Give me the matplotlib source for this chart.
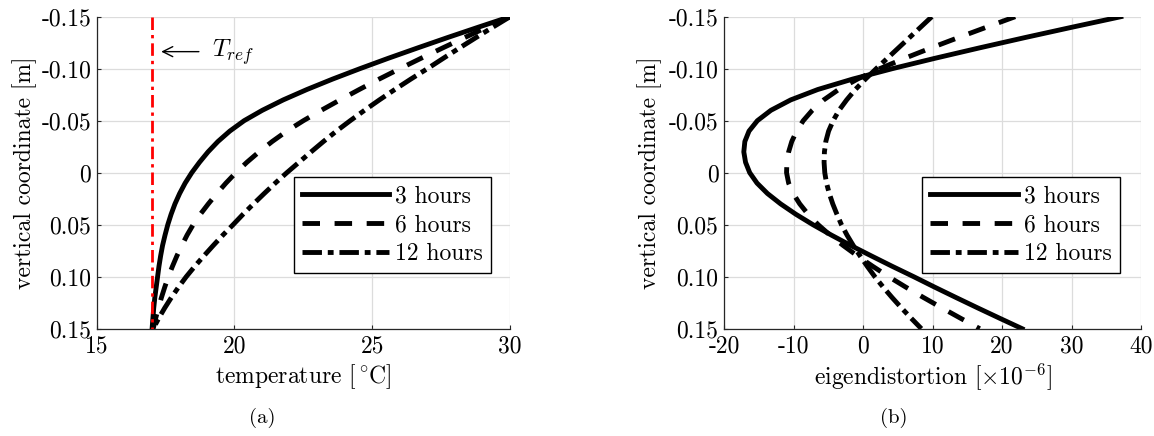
import numpy as np
import matplotlib
matplotlib.use('Agg')
import matplotlib.pyplot as plt

plt.rcParams['font.family'] = 'serif'
plt.rcParams['font.serif'] = ['cmr10']
plt.rcParams['mathtext.fontset'] = 'cm'
plt.rcParams['axes.formatter.use_mathtext'] = True
plt.rcParams['axes.unicode_minus'] = False

# vertical coordinate [m]
z = [-0.15, -0.14, -0.13, -0.12, -0.11, -0.10, -0.09, -0.08, -0.07, -0.06,
     -0.05, -0.04, -0.03, -0.02, -0.01, 0.00, 0.01, 0.02, 0.03, 0.04,
     0.05, 0.06, 0.07, 0.08, 0.09, 0.10, 0.11, 0.12, 0.13, 0.14, 0.15]

# temperature [C]
temp_3h = [30.0, 28.86, 27.74, 26.65, 25.58, 24.55, 23.56, 22.63, 21.77, 21.01,
           20.35, 19.83, 19.40, 19.04, 18.73, 18.45, 18.21, 18.01, 17.84, 17.70,
           17.58, 17.48, 17.39, 17.32, 17.26, 17.21, 17.16, 17.11, 17.07, 17.04, 17.01]
temp_6h = [30.0, 29.17, 28.36, 27.56, 26.77, 26.0, 25.25, 24.53, 23.83, 23.15,
           22.5, 21.9, 21.37, 20.89, 20.45, 20.05, 19.69, 19.36, 19.05, 18.76,
           18.5, 18.28, 18.09, 17.91, 17.75, 17.6, 17.47, 17.35, 17.24, 17.14, 17.05]
temp_12h = [30.0, 29.38, 28.77, 28.17, 27.58, 27.0, 26.4, 25.82, 25.26, 24.72,
            24.2, 23.7, 23.23, 22.78, 22.34, 21.9, 21.48, 21.08, 20.69, 20.31,
            19.95, 19.58, 19.23, 18.89, 18.56, 18.25, 17.97, 17.71, 17.47, 17.25, 17.05]
T_ref = 17.0

# eigendistortion [x1e-6]
eig_3h = [37.1, 30.15, 23.35, 16.75, 10.35, 4.2, -1.5, -6.5, -10.4, -13.25,
          -15.2, -16.4, -17.0, -17.15, -16.9, -16.3, -15.25, -13.75, -11.85, -9.65,
          -7.2, -4.55, -1.75, 1.2, 4.2, 7.3, 10.3, 13.38, 16.5, 19.68, 22.9]
eig_6h = [21.9, 17.8, 13.75, 9.8, 6.0, 2.4, -0.8, -3.5, -5.65, -7.3,
          -8.6, -9.55, -10.25, -10.7, -10.95, -11.0, -10.7, -10.05, -9.1, -7.9,
          -6.45, -4.75, -2.85, -0.8, 1.4, 3.7, 6.15, 8.7, 11.35, 14.05, 16.8]
eig_12h = [9.9, 8.3, 6.7, 5.1, 3.5, 1.9, 0.35, -1.1, -2.35, -3.45,
           -4.3, -4.95, -5.35, -5.55, -5.6, -5.5, -5.25, -4.85, -4.35, -3.75,
           -3.1, -2.3, -1.4, -0.42, 0.61, 1.7, 2.9, 4.18, 5.53, 6.94, 8.4]

labels = ['3 hours', '6 hours', '12 hours']
y_ticks = [-0.15, -0.10, -0.05, 0, 0.05, 0.10, 0.15]
y_ticklabels = ['-0.15', '-0.10', '-0.05', '0', '0.05', '0.10', '0.15']
x1_ticks = [15, 20, 25, 30]
x2_ticks = [-20, -10, 0, 10, 20, 30, 40]

FS = 17
LW = 3.5
styles = [dict(linestyle='-'), dict(dashes=(3.6, 3.0)), dict(dashes=(4.0, 1.2, 1.2, 1.2))]

W, H = 1154, 436
fig = plt.figure(figsize=(W / 100, H / 100), dpi=100)
ax1 = fig.add_axes([96.7 / W, 1 - 328.7 / H, 413.3 / W, 312 / H])
ax2 = fig.add_axes([724 / W, 1 - 328.7 / H, 417 / W, 312 / H])


def style_axes(ax, xticks, xlim):
    ax.set_xlim(xlim)
    ax.set_ylim(0.15, -0.15)
    ax.set_xticks(xticks)
    ax.set_xticklabels([str(t) for t in xticks])
    ax.set_yticks(y_ticks)
    ax.set_yticklabels(y_ticklabels)
    ax.tick_params(direction='in', length=3, width=0.8, labelsize=FS, color='#262626',
                   top=False, right=False)
    ax.tick_params(axis='x', pad=5)
    ax.tick_params(axis='y', pad=4)
    for s in ['top', 'right']:
        ax.spines[s].set_visible(False)
    for s in ['left', 'bottom']:
        ax.spines[s].set_color('#262626')
        ax.spines[s].set_linewidth(0.9)
    ax.grid(True, color='#dcdcdc', linewidth=0.9)
    ax.set_axisbelow(True)
    ax.set_ylabel('vertical coordinate [m]', fontsize=FS)
    ax.yaxis.label.set_va('center')
    ax.yaxis.label.set_rotation_mode('anchor')


# (a) temperature
for data, lab, st in zip([temp_3h, temp_6h, temp_12h], labels, styles):
    ax1.plot(data, z, color='k', lw=LW, label=lab, **st)
ax1.plot([T_ref, T_ref], [z[0], z[-1]], color='red', lw=2, dashes=(4.5, 1.8, 1.2, 1.8), zorder=5)
ax1.annotate('', xy=(17.24, -0.1164), xytext=(18.81, -0.1164),
             arrowprops=dict(arrowstyle='->', lw=1, color='k', mutation_scale=18))
ax1.text(19.2, -0.1164, r'$T_{ref}$', fontsize=FS + 1, va='center', ha='left')
style_axes(ax1, x1_ticks, (15, 30))
ax1.set_xlabel(r'temperature $[\!\,^\circ\!\mathrm{C}]$', fontsize=FS)
ax1.yaxis.set_label_coords(-0.1736, 0.5)
ax1.xaxis.set_label_coords(0.5, -0.154)
ax1.xaxis.label.set_va('center')

# (b) eigendistortion
for data, lab, st in zip([eig_3h, eig_6h, eig_12h], labels, styles):
    ax2.plot(data, z, color='k', lw=LW, label=lab, **st)
style_axes(ax2, x2_ticks, (-20, 40))
ax2.set_xlabel(r'eigendistortion $[\times10^{-6}]$', fontsize=FS)
ax2.yaxis.set_label_coords(-0.1775, 0.5)
ax2.xaxis.set_label_coords(0.5, -0.154)
ax2.xaxis.label.set_va('center')

for ax, x0 in [(ax1, 0.477), (ax2, 0.475)]:
    leg = ax.legend(loc='upper left', bbox_to_anchor=(x0, 0.486), borderaxespad=0,
                    fontsize=FS, handlelength=3.7, handletextpad=0.25, labelspacing=0.28,
                    borderpad=0.35, fancybox=False, framealpha=1, edgecolor='k')
    leg.get_frame().set_linewidth(1.0)

fig.text(262 / W, 1 - 418 / H, '(a)', fontsize=15, ha='center', va='center')
fig.text(894 / W, 1 - 418 / H, '(b)', fontsize=15, ha='center', va='center')

fig.savefig('out.png', dpi=100)
